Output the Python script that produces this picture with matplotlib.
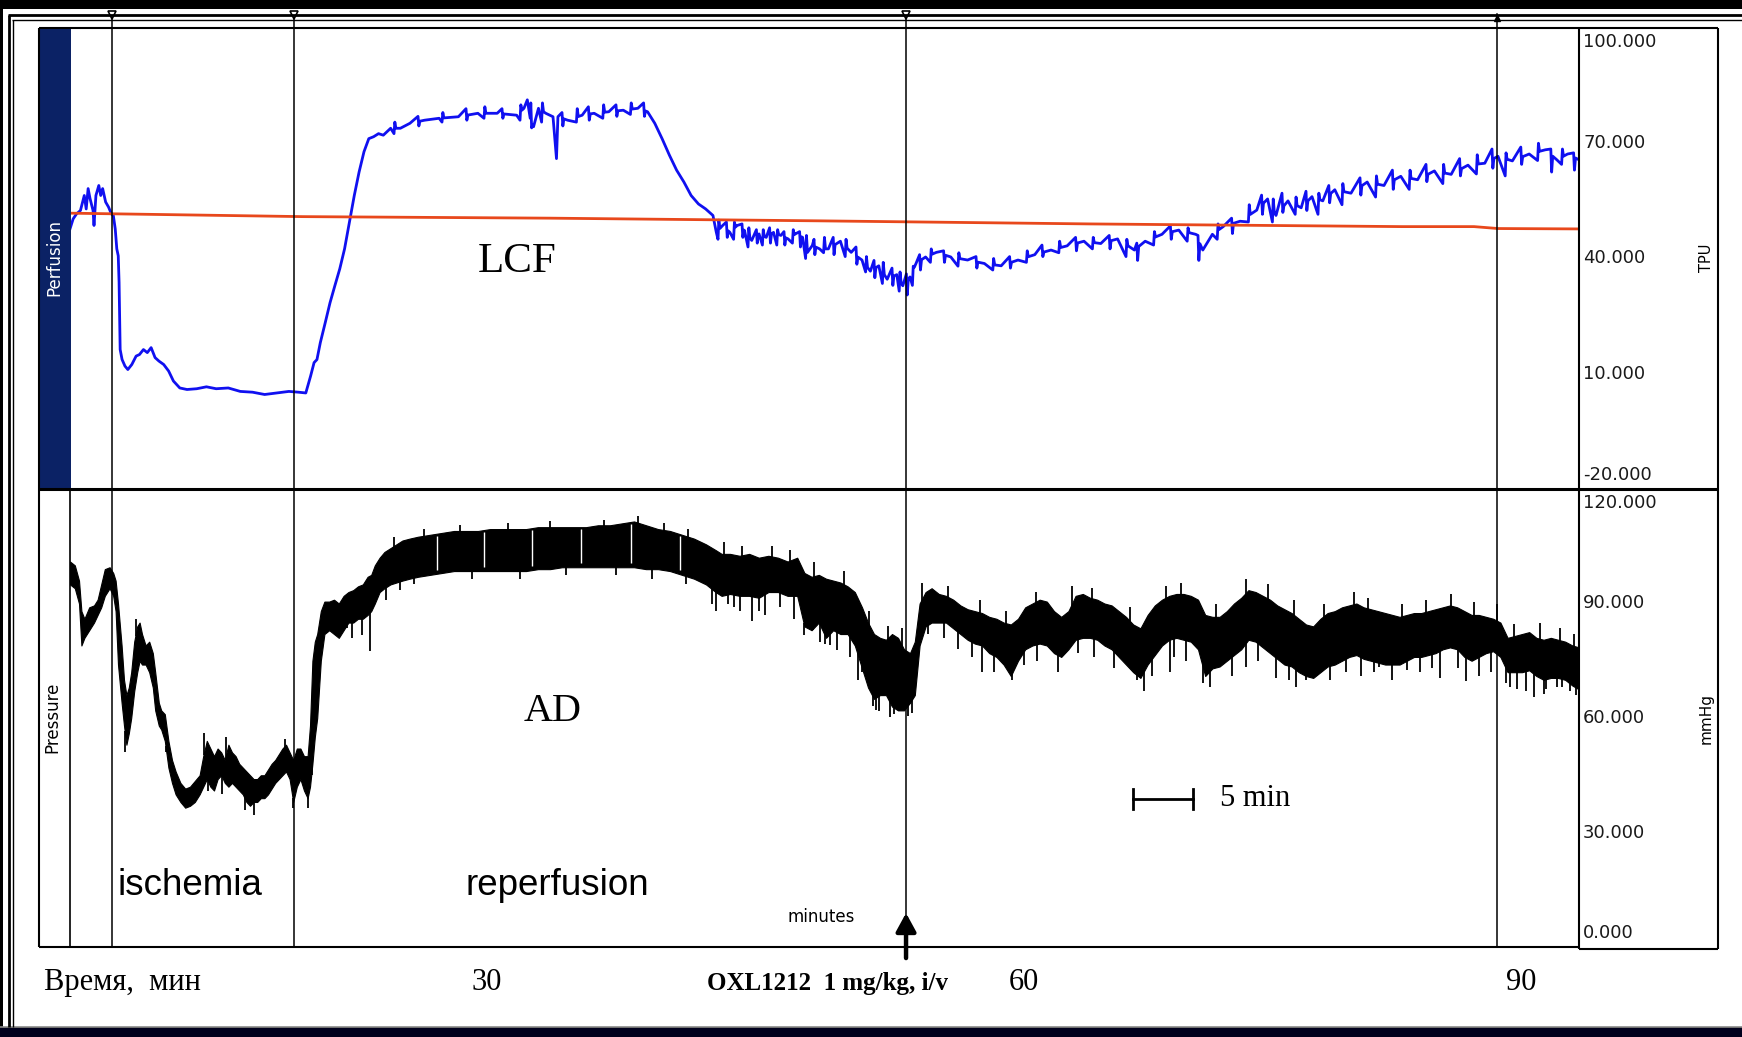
import numpy as np
import matplotlib
matplotlib.use("Agg")
import matplotlib.pyplot as plt
from matplotlib.lines import Line2D
from matplotlib.patches import Rectangle
from matplotlib.transforms import blended_transform_factory, offset_copy

# ---------------------------------------------------------------- data
T_END = 125.75  # length of the record shown, minutes

# laser Doppler flux, LCF (TPU)
lcf_t = [0.0, 0.26, 0.54, 0.87, 1.19, 1.35, 1.51, 1.67, 1.92, 2.0, 2.16, 2.4, 2.56, 2.72,
         2.97, 3.21, 3.45, 3.61, 3.77, 3.9, 4.02, 4.09, 4.18, 4.34, 4.58, 4.82, 5.15, 5.51,
         5.79, 6.12, 6.44, 6.76, 7.09, 7.41, 7.81, 8.22, 8.62, 9.15, 9.75, 10.56, 11.37,
         12.18, 13.19, 14.19, 15.21, 16.22, 17.23, 18.24, 19.04, 19.65, 19.85, 20.05, 20.34,
         20.58, 20.86, 21.27, 21.67, 22.07, 22.48, 22.88, 23.29, 23.69, 24.09, 24.5, 24.9,
         25.3, 25.71, 26.11, 26.72, 27.53, 28.33, 29.55, 30.76, 32.37, 33.99, 35.6, 37.22,
         37.83, 38.11, 38.35, 38.63, 39.04, 39.65, 40.25, 40.54, 40.66, 41.47, 42.68, 43.68,
         44.9, 46.11, 47.32, 48.13, 48.73, 49.34, 49.95, 50.55, 51.16, 51.76, 52.37, 52.97,
         53.58, 53.86, 54.39, 54.99, 55.6, 56.21, 56.81, 57.42, 58.02, 58.63, 59.24, 59.84,
         60.45, 61.05, 61.46, 61.86, 62.47, 63.2, 64.2, 65.1, 66.0, 66.7, 67.4, 68.1, 68.9,
         69.4, 70.0, 70.5, 71.3, 72.2, 73.4, 74.8, 76.2, 77.6, 79.0, 80.4, 81.75, 83.1, 84.5,
         85.9, 87.3, 88.7, 89.6, 91.0, 92.4, 93.8, 94.4, 95.2, 96.1, 97.5, 98.9, 99.8, 100.5,
         101.5, 102.6, 103.5, 104.4, 105.4, 106.75, 108.1, 109.5, 110.9, 112.3, 113.7, 115.1,
         116.5, 117.9, 119.0, 120.2, 121.6, 122.95, 123.9, 124.8, 125.75]
lcf_v = [47.7, 50.3, 51.6, 52.5, 56.4, 52.9, 58.2, 55.6, 52.5, 48.6, 56.4, 59.0, 56.4, 58.2,
         54.7, 53.4, 51.6, 51.2, 47.7, 42.5, 40.7, 33.8, 16.3, 13.7, 12.0, 11.1, 12.4, 14.6,
         15.0, 16.3, 15.5, 16.8, 14.2, 13.3, 12.4, 10.7, 8.1, 6.3, 5.9, 6.1, 6.6,
         6.1, 6.3, 5.4, 5.2, 4.6, 5.0, 5.4, 5.2, 5.0, 7.2, 9.4, 12.9,
         13.7, 18.1, 23.3, 28.5, 32.9, 37.3, 42.5, 49.5, 56.4, 62.5, 67.8, 71.2,
         71.7, 72.5, 72.1, 73.9, 73.9, 75.2, 76.0, 76.5, 76.9, 77.8, 77.8, 77.3,
         79.1, 81.3, 76.5, 74.3, 79.1, 77.8, 76.9, 66.0, 76.9, 76.0, 77.3, 77.8,
         78.2, 78.6, 79.1, 78.2, 75.2, 71.2, 66.9, 63.0, 59.9, 56.4, 54.2, 52.9,
         51.2, 46.8, 48.6, 46.8, 48.6, 47.3, 44.7, 46.4, 45.5, 46.8, 46.0, 45.1,
         46.4, 45.5, 41.6, 43.4, 42.5, 42.5, 44.5, 41.6, 39.6, 36.7, 38.1, 34.6, 35.8,
         32.9, 35.2, 38.7, 40.4, 41.6, 40.4, 39.6, 38.7, 38.1, 39.6, 41.0, 42.2, 43.3, 44.5,
         43.9, 45.1, 42.2, 44.5, 46.3, 47.4, 46.3, 42.2, 46.3, 48.3, 49.7, 52.6, 55.5, 51.2,
         55.0, 53.2, 56.1, 55.0, 57.9, 57.0, 59.9, 59.0, 61.4, 60.5, 62.8, 61.9,
         64.3, 64.8, 66.6, 65.4, 67.2, 68.3, 65.7, 67.2, 65.7]

# short excursions of the LCF signal: time, low, high
lcf_hair_t = [27.0, 29.0, 31.0, 33.0, 34.5, 36.0, 37.5, 38.4, 39.3, 41.0, 42.2, 43.2, 44.4,
              45.5, 46.7, 47.8, 54.0, 54.7, 55.3, 56.0, 56.5, 57.2, 57.7, 58.3, 58.9, 59.5,
              60.2, 60.8, 61.3, 62.0, 62.8, 63.6, 64.6, 65.5, 66.3, 67.0, 67.7, 68.5, 69.1,
              69.7, 70.2, 70.8, 71.7, 72.8, 74.0, 75.5, 76.9, 78.3, 79.7, 81.0, 82.4, 83.8,
              85.2, 86.6, 88.0, 88.9, 90.3, 91.7, 93.1, 94.0, 95.6, 96.8, 98.2, 99.3, 100.2,
              101.0, 102.1, 103.0, 104.0, 104.9, 106.0, 107.5, 108.8, 110.2, 111.6, 113.0,
              114.4, 115.8, 117.2, 118.5, 119.6, 120.9, 122.3, 123.4, 124.3, 125.3]
lcf_hair_lo = [72.5, 74.5, 75.5, 76.0, 76.5, 76.5, 76.0, 74.0, 75.5, 74.5, 75.5, 76.0, 76.5,
               77.0, 77.5, 77.0, 45.0, 45.5, 45.0, 45.5, 43.0, 44.0, 43.5, 44.0, 43.5, 43.5,
               44.0, 43.0, 40.0, 41.0, 41.5, 41.0, 40.5, 38.5, 36.5, 35.0, 33.5, 33.0, 31.5,
               30.5, 33.0, 37.0, 39.0, 39.0, 38.0, 37.5, 37.0, 37.5, 39.0, 40.5, 41.5, 42.0,
               42.5, 42.5, 40.5, 39.5, 43.5, 45.0, 44.5, 39.5, 45.0, 46.5, 49.5, 51.5, 49.5,
               52.0, 51.5, 52.5, 51.5, 54.5, 54.0, 56.5, 56.0, 58.0, 58.0, 60.0,
               59.5, 61.5, 62.0, 63.5, 61.5, 64.5, 65.5, 62.5, 64.5, 63.0]
lcf_hair_hi = [75.5, 77.0, 78.0, 79.0, 79.5, 79.0, 80.0, 80.5, 80.5, 78.0, 79.0, 79.5, 80.0,
               80.0, 80.5, 80.5, 50.0, 49.5, 49.5, 49.0, 48.0, 47.5, 47.5, 48.0, 47.5, 47.0,
               47.5, 47.0, 46.0, 45.0, 45.5, 45.5, 45.0, 43.0, 40.5, 39.5, 39.0, 37.5, 36.5,
               36.0, 38.0, 41.0, 42.5, 42.0, 41.5, 40.5, 40.0, 40.5, 42.0, 43.5, 44.5, 45.5,
               45.5, 46.0, 45.0, 44.0, 47.0, 48.5, 48.0, 46.0, 49.0, 50.5, 54.0, 56.5, 55.5,
               57.0, 56.0, 57.5, 57.0, 59.0, 59.5, 61.0, 61.5, 63.0, 63.0, 64.5,
               64.5, 66.0, 67.0, 68.5, 67.5, 69.0, 70.0, 68.5, 68.5, 67.5]

# baseline channel (TPU)
base_t = [0.0, 19.4, 40.0, 62.5, 85.0, 111.0, 117.0, 119.0, 125.75]
base_v = [51.8, 50.9, 50.5, 49.8, 49.0, 48.3, 48.3, 47.8, 47.7]

# arterial pressure, AD (mmHg): upper and lower edge of the pulse band
ad_t = [0.0, 0.4, 0.75, 0.95, 1.2, 1.6, 2.0, 2.3, 2.6, 2.9, 3.3, 3.6, 3.8, 4.0, 4.3, 4.5,
        4.7, 4.9, 5.1, 5.35, 5.6, 5.8, 6.0, 6.3, 6.6, 6.9, 7.1, 7.4, 7.6, 7.9, 8.2, 8.5,
        8.8, 9.2, 9.6, 10.0, 10.4, 10.8, 11.1, 11.4, 11.7, 12.0, 12.3, 12.6, 12.9, 13.2,
        13.5, 13.8, 14.1, 14.4, 14.7, 15.0, 15.3, 15.6, 15.9, 16.2, 16.5, 16.8, 17.1, 17.4,
        17.7, 18.0, 18.3, 18.6, 18.9, 19.2, 19.5, 19.8, 20.0, 20.2, 20.4, 20.6, 20.9, 21.2,
        21.6, 22.0, 22.4, 22.8, 23.2, 23.6, 24.0, 24.4, 24.8, 25.1, 25.4, 25.8, 26.2, 26.7,
        27.2, 27.7, 28.3, 29.0, 30.0, 31.0, 32.0, 33.0, 34.0, 35.0, 36.0, 37.0, 38.0, 39.0,
        40.0, 41.0, 42.0, 43.0, 44.0, 45.0, 46.0, 47.0, 48.0, 49.0, 50.0, 51.0, 52.0, 53.0,
        53.8, 54.3, 55.0, 55.8, 56.6, 57.4, 58.2, 59.0, 59.8, 60.6, 61.2, 61.8, 62.4, 63.0,
        63.6, 64.2, 64.8, 65.4, 66.0, 66.5, 67.0, 67.5, 68.0, 68.5, 69.0, 69.5, 70.0, 70.4,
        70.8, 71.3, 71.8, 72.4, 73.0, 73.6, 74.2, 74.8, 75.4, 76.0, 76.6, 77.2, 77.8, 78.4,
        79.0, 79.6, 80.2, 80.8, 81.4, 82.0, 82.6, 83.2, 83.8, 84.4, 85.0, 85.6, 86.2, 86.8,
        87.4, 88.0, 88.6, 89.2, 89.8, 90.4, 91.0, 91.6, 92.2, 92.8, 93.4, 94.0, 94.6, 95.2,
        95.8, 96.4, 97.0, 97.6, 98.2, 98.8, 99.4, 100.0, 100.6, 101.2, 101.8, 102.4, 103.0,
        103.6, 104.2, 104.8, 105.4, 106.0, 106.6, 107.2, 107.8, 108.4, 109.0, 109.6, 110.2,
        110.8, 111.4, 112.0, 112.6, 113.2, 113.8, 114.4, 115.0, 115.6, 116.2, 116.8, 117.4,
        118.0, 118.6, 119.2, 119.8, 120.4, 121.0, 121.6, 122.2, 122.8, 123.4, 124.0, 124.6,
        125.2, 125.75]
ad_hi = [101, 100, 96, 88, 86, 89, 89.5, 91, 95, 99, 99.5, 98, 96, 90, 79, 70,
         66, 68, 72, 80, 84, 85, 82, 79, 80, 77, 72, 64, 62, 61, 54, 49,
         46, 43, 41.5, 42, 43.5, 45, 50, 54, 52, 50, 52, 51, 49, 53,
         51, 50, 48, 47, 46, 45, 44, 44, 45, 45, 46.5, 48, 49, 50.5,
         52, 53, 51, 49, 52, 52, 50, 50, 58, 75, 80, 82, 88, 90.5,
         90.5, 91, 90, 92, 93, 93.5, 94.5, 95, 97, 97.5, 100, 102, 103.5, 104.5,
         105.5, 106.5, 107, 107.5, 108, 108.5, 109, 109, 109, 109.5, 109.5, 109.5, 109.5, 110,
         110, 110, 110, 110, 110.5, 110.5, 111, 111.5, 110.5, 109.5, 109, 108, 107, 105.5,
         104, 103, 103, 102.5, 103, 102, 102.5, 102, 101, 102, 98, 97, 97.5, 96.5,
         96, 95.5, 94.5, 93, 89, 85, 82, 81, 80.5, 82, 81, 78, 77, 80,
         90, 93, 94, 92.5, 92, 91, 89.5, 88.5, 88, 87.5, 86.5, 86, 85, 84.5,
         86, 89, 90, 91, 90.5, 88, 86.5, 88, 92, 92.5, 91.5, 91, 90, 89.5,
         88, 86.5, 84.5, 83.5, 87, 89.5, 91, 92, 92.5, 92.5, 92, 91, 87, 86.5,
         86.5, 88, 90, 91.5, 93.5, 93, 92, 91, 89.5, 88.5, 87.5, 86, 84.5,
         84, 86, 87.5, 88, 89, 89.5, 90, 89, 88.5, 88, 87.5, 87,
         86.5, 87, 87.5, 87.5, 88, 88.5, 89, 89.5, 89, 88, 87, 87,
         86.5, 86, 85, 81, 81.5, 82, 82.5, 81, 80.5, 81, 80.5, 80,
         79, 78.5]
ad_lo = [95, 94, 90, 79, 81, 83, 85, 87, 89, 92, 94, 92, 88, 74, 64, 58,
         53, 56, 60, 67, 72, 75, 74, 74, 72, 68, 62, 58, 57, 54, 47, 43,
         40, 38, 36.5, 37, 38, 40, 42, 44, 42, 41, 44, 45, 43, 42,
         43, 42, 41, 40, 38, 37, 38, 38, 39, 39, 40, 41.5, 43, 44,
         45, 46, 44, 38, 42, 44, 41, 39, 42, 48, 55, 60, 75, 82,
         83, 82, 81, 83, 85, 85, 86, 86, 87, 88, 90, 93, 94, 95,
         95.5, 96, 96.5, 97, 97.5, 98, 98.5, 98.5, 98.5, 98.5, 98.5, 98.5, 98.5, 99,
         99, 99.5, 99.5, 99.5, 99.5, 99.5, 99.5, 99.5, 99, 99, 98.5, 97.5, 96.5, 95,
         93, 92, 92.5, 92, 92, 91.5, 93, 93, 92, 92, 84, 83, 85, 81,
         83, 82, 82, 79, 73, 68, 65, 66, 66, 63, 62, 62, 64, 66,
         79, 84, 85, 85, 85, 83.5, 82, 80.5, 79.5, 79, 77, 76, 74, 71,
         75, 78, 79, 79.5, 79, 77, 76, 78, 80.5, 81, 81, 80.5, 79, 78,
         76, 74, 72, 70.5, 74, 76.5, 79, 80.5, 81, 80.5, 80, 78, 71, 73,
         73.5, 75, 76.5, 78, 80.5, 80, 78.5, 77, 75.5, 74, 73.5, 72, 71,
         70.5, 72, 73.5, 74, 75, 76, 76.5, 75.5, 75, 74.5, 74, 74,
         74, 75, 76, 76, 76.5, 77, 78, 78.5, 78, 76, 75, 76,
         77, 77.5, 76, 72, 72, 72, 72.5, 71, 70, 70.5, 70.5, 70,
         68.5, 67.5]

# single pressure excursions below the band: time, lowest value
spike_t = [4.6, 8.0, 11.5, 12.7, 14.6, 15.3, 18.6, 19.8, 20.2,
           23.1, 23.5, 24.3, 25.0, 26.3, 27.5, 28.7, 33.5, 37.5, 41.3, 45.5, 48.5, 51.3,
           53.5, 53.8, 54.8, 55.3, 55.8, 56.8, 57.4, 57.9, 59.2, 60.3, 61.2, 61.9, 62.5,
           62.9, 63.3, 63.9, 65.0, 65.7, 66.0, 66.9, 67.2, 67.4, 68.3, 68.7, 69.1, 69.8,
           70.2, 71.5, 72.8, 74.0, 75.2, 76.0, 77.0, 78.5, 79.5, 80.6, 82.3, 84.0, 85.3,
           87.0, 88.9, 89.5, 90.2, 91.7, 92.0, 93.0, 94.4, 95.0, 96.8, 98.0, 99.0, 100.5,
           101.6, 102.2, 103.0, 104.3, 105.0, 106.3, 107.6, 108.7, 109.1, 110.2, 111.4,
           112.5, 113.5, 114.2, 115.7, 116.3, 117.4, 118.4, 119.7, 120.0, 120.6, 121.3,
           122.0, 122.8, 123.0, 123.9, 124.3, 125.0, 125.5]
spike_lo = [51.0, 51.0, 41.0, 40.0, 36.0, 34.5, 36.5, 36.5, 45.0,
            83.6, 80.9, 81.8, 77.5, 91.0, 93.5, 95.0, 96.5, 96.5, 97.5, 97.5, 96.5, 95.0,
            90.0, 88.0, 90.0, 89.0, 88.0, 85.3, 88.0, 87.0, 89.0, 86.0, 81.8, 83.0, 80.0,
            79.3, 79.0, 77.8, 76.0, 70.0, 72.0, 63.2, 62.0, 61.8, 60.3, 61.0, 61.8, 60.5,
            61.2, 82.0, 81.0, 78.0, 76.0, 72.0, 72.0, 69.9, 74.0, 75.0, 72.0, 77.0, 76.0,
            73.0, 69.9, 67.0, 71.0, 72.0, 76.0, 75.0, 69.1, 68.0, 71.0, 73.4, 75.0, 70.5,
            70.0, 68.0, 69.9, 73.4, 70.0, 72.0, 71.0, 72.0, 73.4, 70.0, 72.5,
            72.0, 73.0, 70.5, 73.0, 69.8, 71.0, 72.0, 69.1, 68.0, 67.6, 67.0,
            65.4, 66.2, 67.5, 68.2, 68.0, 67.0, 66.0]

# single pressure excursions above the band: time, highest value
peak_t = [5.5, 11.2, 13.0, 17.9, 27.0, 29.5, 32.5, 36.5, 40.0, 44.5, 47.3, 49.5, 51.5,
          54.5, 56.0, 58.5, 60.0, 62.0, 64.5, 66.6, 68.2, 69.3, 71.0, 73.2, 75.8, 78.0,
          80.5, 83.5, 85.2, 88.3, 91.3, 92.6, 95.5, 98.0, 99.8, 102.0, 104.5, 107.0, 108.2,
          111.0, 113.0, 115.1, 117.0, 118.9, 120.3, 122.5, 124.2, 125.3]
peak_hi = [86.0, 56.0, 55.0, 54.5, 107.5, 109.5, 110.5, 111.0, 111.5, 112.0, 113.0, 111.0,
           109.5, 106.0, 105.0, 105.0, 104.0, 101.0, 98.5, 88.0, 84.0, 83.5, 95.5, 94.5,
           91.0, 88.0, 93.0, 94.5, 94.0, 89.0, 94.5, 95.5, 90.0, 96.5, 95.0, 91.0, 90.0,
           93.0, 91.5, 90.0, 91.0, 92.5, 90.5, 90.0, 84.5, 85.0, 83.5, 82.0]

# thin recorder gaps through the pressure band
gap_t = [30.56, 34.51, 38.51, 42.55, 46.71, 50.83]

# event marks: occlusion, release, OXL1212 injection, end mark
event_t = [3.5, 18.67, 69.67, 118.92]

top_ticks = [100, 70, 40, 10, -20]
top_tick_labels = ["100.000", "70.000", "40.000", "10.000", "-20.000"]
bot_ticks = [120, 90, 60, 30, 0]
bot_tick_labels = ["120.000", "90.000", "60.000", "30.000", "0.000"]

time_labels = ["30", "60", "90"]

# ---------------------------------------------------------------- layout
W, H = 1742, 1037
fig = plt.figure(figsize=(W / 100, H / 100), dpi=100)
fig.patch.set_facecolor("black")


def fx(x):
    return x / W


def fy(y):
    return 1 - y / H


def fline(xs, ys, lw, color="black", z=5):
    fig.add_artist(Line2D([fx(v) for v in xs], [fy(v) for v in ys], lw=lw,
                          color=color, transform=fig.transFigure, zorder=z,
                          solid_capstyle="butt"))


def frect(x0, y0, x1, y1, color, z=1):
    fig.add_artist(Rectangle((fx(x0), fy(y1)), (x1 - x0) / W, (y1 - y0) / H,
                             transform=fig.transFigure, color=color, lw=0, zorder=z))


# page
frect(3, 9, W, 1027, "white", z=0)
frect(0, 1028, W, H, "#00001c", z=0)
fline([0, W], [1027.3, 1027.3], 1.2, color="#8a8a8a")
fline([8, W], [14.5, 14.5], 2.0)
fline([12, W], [19.5, 19.5], 1.0)
fline([8.5, 8.5], [14.5, 1027], 2.0)
fline([12.5, 12.5], [19.5, 1027], 1.0)

# chart frame
frect(39, 28, 71, 489, "#0b2265", z=1)
fline([39, 1718], [28, 28], 1.5)
fline([39, 39], [28, 947], 1.5)
fline([39, 1579], [947, 947], 1.5)
fline([1579, 1718], [949, 949], 1.5)
fline([1718, 1718], [28, 949], 1.5)
fline([1579, 1579], [28, 949], 1.5)
fline([69.5, 69.5], [489, 947], 1.2)
fline([39, 1718], [489, 489], 2.2)

# trace areas
L, R = 70, 1579
ax_top = fig.add_axes([fx(L), fy(489), (R - L) / W, (489 - 28) / H])
ax_bot = fig.add_axes([fx(L), fy(947), (R - L) / W, (947 - 489) / H])
for ax in (ax_top, ax_bot):
    ax.set_xlim(0, T_END)
    ax.set_axis_off()
ax_top.set_ylim(-20, 100)
ax_bot.set_ylim(0, 120)

# LCF: the slow course with each short excursion drawn as a narrow spike
trace = list(zip(lcf_t, lcf_v))
for i, (t, lo, hi) in enumerate(zip(lcf_hair_t, lcf_hair_lo, lcf_hair_hi)):
    a, b = (lo, hi) if i % 2 == 0 else (hi, lo)
    back = float(np.interp(t + 0.16, lcf_t, lcf_v))
    trace += [(t, a), (t + 0.07, b), (t + 0.16, back)]
trace.sort(key=lambda p: p[0])
tr_t, tr_v = zip(*trace)
ax_top.plot(tr_t, tr_v, color="#1010f0", lw=2.0, zorder=3)
ax_top.plot(base_t, base_v, color="#e8481c", lw=2.0, zorder=4)

# AD pressure band with its single excursions
ax_bot.fill_between(ad_t, ad_lo, ad_hi, color="black", lw=0.8, zorder=3)
ax_bot.vlines(spike_t, spike_lo, np.interp(spike_t, ad_t, ad_lo) + 1.0,
              color="black", lw=1.3, zorder=3)
ax_bot.vlines(peak_t, np.interp(peak_t, ad_t, ad_hi) - 1.0, peak_hi,
              color="black", lw=1.3, zorder=3)
ax_bot.vlines(gap_t, np.interp(gap_t, ad_t, ad_lo) + 1.0, np.interp(gap_t, ad_t, ad_hi) - 0.5,
              color="white", lw=1.0, zorder=4)

# event lines running through both channels, with marks above the frame
for t in event_t:
    ax_top.axvline(t, ymin=0, ymax=1 + 14 / 461, color="black", lw=1.1,
                   clip_on=False, zorder=6)
    ax_bot.axvline(t, color="black", lw=1.1, zorder=6)
for t in event_t[:3]:
    ax_top.plot([t], [103.3], marker="v", ms=6, mfc="white", mec="black", mew=1.2,
                clip_on=False, zorder=7)
ax_top.plot([event_t[3]], [102.5], marker="^", ms=5, mfc="black", mec="black",
            clip_on=False, zorder=7)

# right-hand value scales
for ax, ticks, labels in ((ax_top, top_ticks, top_tick_labels),
                          (ax_bot, bot_ticks, bot_tick_labels)):
    tr = blended_transform_factory(ax.transAxes, ax.transData)
    for i, (v, s) in enumerate(zip(ticks, labels)):
        dy = 0
        if i == 0:
            dy = -10
        elif i == len(ticks) - 1:
            dy = 10
        t2 = offset_copy(tr, fig=fig, x=3, y=dy, units="points")
        ax.text(1.0, v, s, transform=t2, ha="left", va="center", fontsize=13,
                color="#1a1a1a", family="DejaVu Sans")

fig.text(fx(1706), fy(258), "TPU", rotation=90, ha="center", va="center",
         fontsize=10.5, family="DejaVu Sans")
fig.text(fx(1706), fy(718), "mmHg", rotation=90, ha="center", va="center",
         fontsize=11, family="DejaVu Sans")
fig.text(fx(54), fy(258), "Perfusion", rotation=90, ha="center", va="center",
         fontsize=12, color="white", family="DejaVu Sans", zorder=3)
fig.text(fx(52), fy(717), "Pressure", rotation=90, ha="center", va="center",
         fontsize=12, family="DejaVu Sans")

# channel names and phases
fig.text(fx(517), fy(272), "LCF", ha="center", va="baseline", fontsize=31,
         family="Liberation Serif")
fig.text(fx(553), fy(721), "AD", ha="center", va="baseline", fontsize=29,
         family="Liberation Serif")
fig.text(fx(117), fy(895), "ischemia", ha="left", va="baseline", fontsize=26.5,
         family="Liberation Sans")
fig.text(fx(465), fy(895), "reperfusion", ha="left", va="baseline", fontsize=26.5,
         family="Liberation Sans")
fig.text(fx(787), fy(922), "minutes", ha="left", va="baseline", fontsize=12,
         family="DejaVu Sans")

# 5-minute scale bar
sb_t0, sb_v = 88.58, 38.8
ax_bot.plot([sb_t0, sb_t0 + 5], [sb_v, sb_v], color="black", lw=2.0, zorder=5)
for t in (sb_t0, sb_t0 + 5):
    ax_bot.plot([t, t], [sb_v - 2.6, sb_v + 2.6], color="black", lw=2.0, zorder=5)
fig.text(fx(1220), fy(806), "5 min", ha="left", va="baseline", fontsize=22,
         family="Liberation Serif")

# injection arrow under the drug mark
ax_bot.annotate("", xy=(event_t[2], 8.9), xytext=(event_t[2], -2.9),
                arrowprops=dict(arrowstyle="-|>,head_length=0.55,head_width=0.3",
                                lw=3.2, color="black", mutation_scale=20,
                                shrinkA=0, shrinkB=0),
                annotation_clip=False, zorder=8)

# time row
fig.text(fx(44), fy(990), "Время,  мин", ha="left", va="baseline", fontsize=22,
         family="Liberation Serif")
for s, x in zip(time_labels, (487, 1024, 1521)):
    fig.text(fx(x), fy(990), s, ha="center", va="baseline", fontsize=22,
             family="Liberation Serif")
fig.text(fx(707), fy(990), "OXL1212  1 mg/kg, i/v", ha="left", va="baseline",
         fontsize=18, fontweight="bold", family="Liberation Serif")

fig.savefig("out.png", dpi=100, facecolor=fig.get_facecolor())
